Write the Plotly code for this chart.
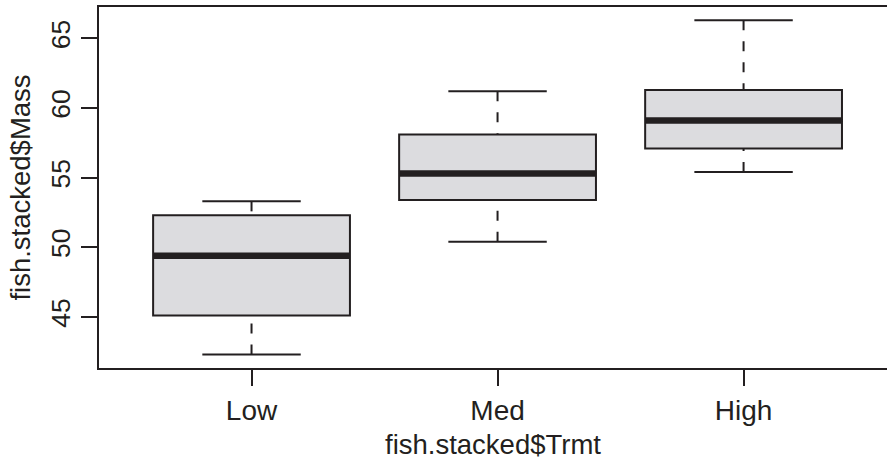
import plotly.graph_objects as go

categories = ["Low", "Med", "High"]
positions = [1, 2, 3]
lower_whisker = [42.3, 50.4, 55.4]
q1 = [45.1, 53.4, 57.1]
median = [49.4, 55.3, 59.1]
q3 = [52.3, 58.1, 61.3]
upper_whisker = [53.3, 61.2, 66.3]
y_ticks = [45, 50, 55, 60, 65]

INK = "#231f20"
FILL = "#dcdcdf"
FONT = "Liberation Sans, Arial, sans-serif"
BOX_W = 0.8
CAP_W = 0.4

fig = go.Figure()

# boxes (whiskers handled separately so they can be dashed)
fig.add_trace(go.Box(
    x=positions, q1=q1, median=median, q3=q3,
    lowerfence=q1, upperfence=q3,
    width=BOX_W, fillcolor=FILL,
    line=dict(color=INK, width=2),
    whiskerwidth=0, boxpoints=False, hoverinfo="skip", showlegend=False,
))

for i, p in enumerate(positions):
    # dashed whiskers, starting at the fence
    for fence, edge in ((upper_whisker[i], q3[i]), (lower_whisker[i], q1[i])):
        fig.add_trace(go.Scatter(
            x=[p, p], y=[fence, edge], mode="lines",
            line=dict(color=INK, width=2, dash="10px,11px"),
            hoverinfo="skip", showlegend=False,
        ))
    # staples
    for fence in (upper_whisker[i], lower_whisker[i]):
        fig.add_trace(go.Scatter(
            x=[p - CAP_W / 2, p + CAP_W / 2], y=[fence, fence], mode="lines",
            line=dict(color=INK, width=2),
            hoverinfo="skip", showlegend=False,
        ))
    # thick median
    fig.add_trace(go.Scatter(
        x=[p - BOX_W / 2, p + BOX_W / 2], y=[median[i], median[i]], mode="lines",
        line=dict(color=INK, width=6.5),
        hoverinfo="skip", showlegend=False,
    ))

fig.update_layout(
    width=887, height=463,
    margin=dict(l=99, r=0, t=7, b=95),
    paper_bgcolor="white", plot_bgcolor="white",
    font=dict(family=FONT, size=27, color=INK),
    showlegend=False,
)
fig.update_xaxes(
    range=[0.38, 3.583],
    tickmode="array", tickvals=positions, ticktext=categories,
    tickfont=dict(size=28),
    ticks="outside", ticklen=16, tickwidth=2, tickcolor=INK,
    showline=True, linecolor=INK, linewidth=2, mirror=True,
    showgrid=False, zeroline=False,
    title=dict(text="fish.stacked$Trmt", standoff=10, font=dict(size=27.5)),
)
fig.update_yaxes(
    range=[41.33, 67.26],
    tickmode="array", tickvals=y_ticks, ticktext=[str(v) for v in y_ticks],
    tickfont=dict(size=26.5),
    tickangle=-90,
    ticks="outside", ticklen=16, tickwidth=2, tickcolor=INK,
    showline=True, linecolor=INK, linewidth=2, mirror=False,
    showgrid=False, zeroline=False,
    title=dict(text="fish.stacked$Mass", standoff=8, font=dict(size=27.5)),
)

fig.write_html("out.html")
